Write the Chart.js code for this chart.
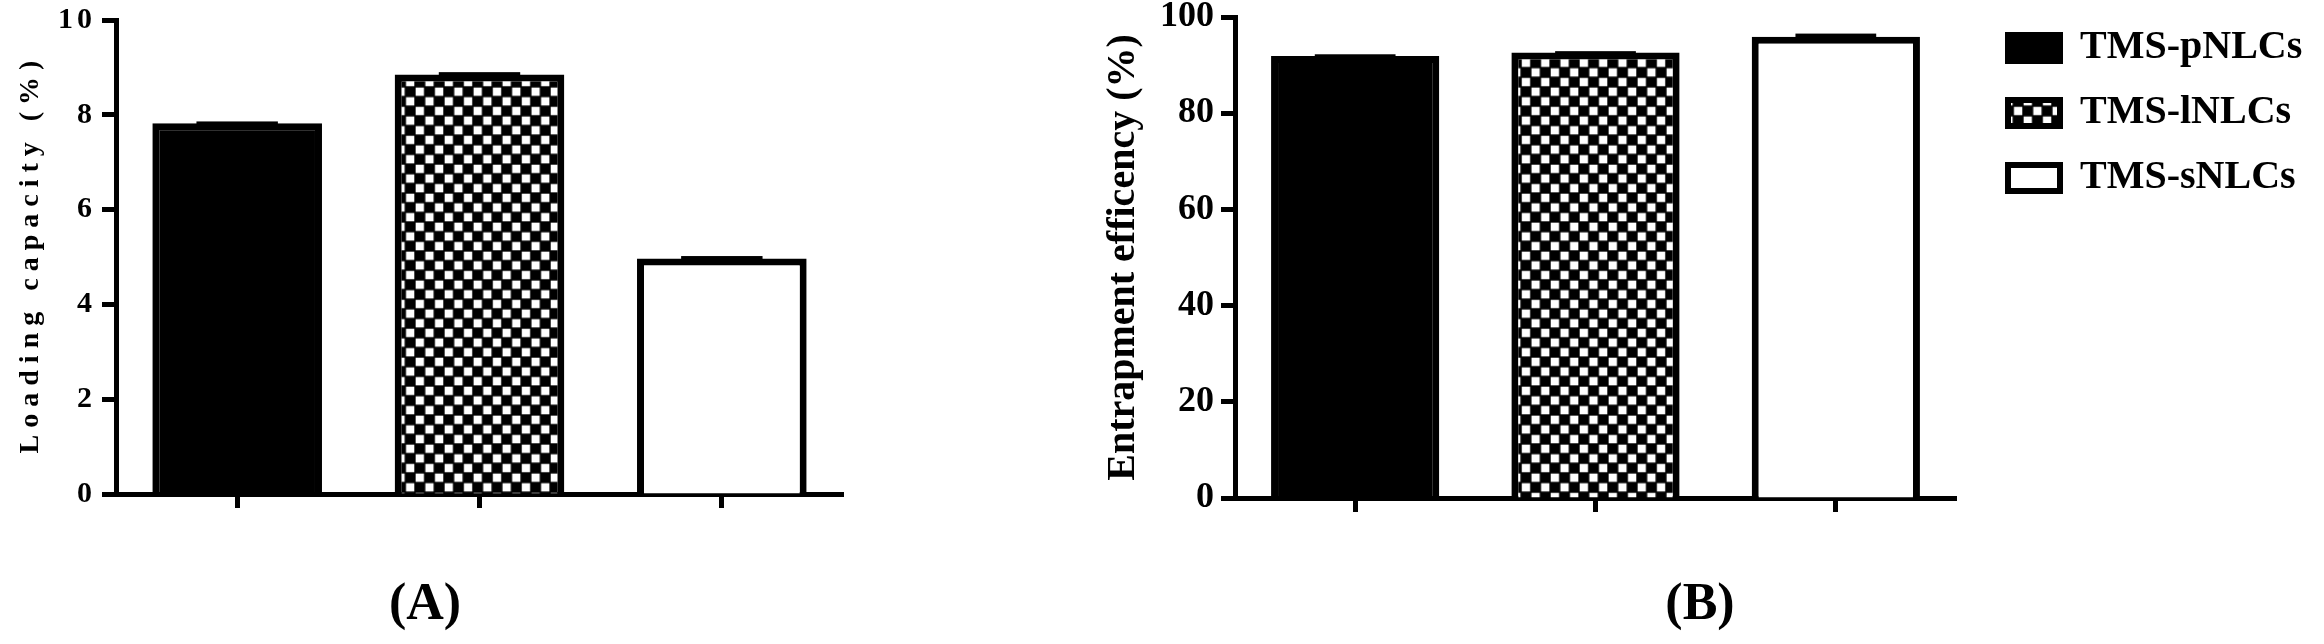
<!DOCTYPE html>
<html>
<head>
<meta charset="utf-8">
<script src="https://cdn.jsdelivr.net/npm/chart.js@4"></script>
<style>
html,body{margin:0;padding:0;background:#fff;}
#wrap{position:relative;width:2324px;height:644px;overflow:hidden;background:#fff;}
canvas{position:absolute;top:0;}
#cA{left:0;}
#cB{left:1000px;}
.panel{position:absolute;top:576px;width:200px;text-align:center;font-family:'Liberation Serif',serif;font-weight:bold;font-size:52px;line-height:52px;color:#000;}
</style>
</head>
<body>
<div id="wrap">
<canvas id="cA" width="1000" height="644"></canvas>
<canvas id="cB" width="1324" height="644"></canvas>
<div class="panel" style="left:325px">(A)</div>
<div class="panel" style="left:1600px">(B)</div>
</div>
<script>
// ---- data ----
const categories = ['TMS-pNLCs', 'TMS-lNLCs', 'TMS-sNLCs'];
const loadingCapacity = [7.82, 8.85, 4.97];
const loadingCapacityErr = [0.04, 0.05, 0.05];
const entrapmentEfficiency = [91.9, 92.6, 95.9];
const entrapmentEfficiencyErr = [0.35, 0.3, 0.65];
const loadingTicks = [0, 2, 4, 6, 8, 10];
const entrapmentTicks = [0, 20, 40, 60, 80, 100];
const titleA = 'Loading capacity (%)';
const titleB = 'Entrapment efficency (%)';

const SERIF = "'Liberation Serif', 'Times New Roman', serif";

function makeChecker() {
  const t = document.createElement('canvas');
  t.width = 20; t.height = 20;
  const g = t.getContext('2d');
  g.fillStyle = '#000'; g.fillRect(0, 0, 20, 20);
  g.fillStyle = '#fff';
  g.fillRect(0.7, 0.7, 8.6, 8.6);
  g.fillRect(10.7, 10.7, 8.6, 8.6);
  const p = g.createPattern(t, 'repeat');
  if (p.setTransform && window.DOMMatrix) p.setTransform(new DOMMatrix().scale(0.965));
  return p;
}
const checker = makeChecker();
const fills = ['#000000', checker, '#ffffff'];

const errorBarsPlugin = {
  id: 'errorBars',
  afterDatasetsDraw(chart, args, opts) {
    const meta = chart.getDatasetMeta(0);
    const y = chart.scales.y;
    const vals = chart.data.datasets[0].data;
    const ctx = chart.ctx;
    ctx.save();
    ctx.fillStyle = '#000';
    meta.data.forEach((bar, i) => {
      const top = y.getPixelForValue(vals[i] + opts.errors[i]);
      const half = bar.width * opts.capRatio / 2;
      ctx.fillRect(bar.x - half, top, half * 2, bar.y - top + 1);
    });
    ctx.restore();
  }
};

// draws text char by char with extra spacing (letter-spaced look of panel A)
function withSpacing(ctx, spacing, fn) {
  const orig = ctx.fillText;
  ctx.fillText = function (text, x, y) {
    const align = ctx.textAlign;
    const chars = Array.from(String(text));
    const w = chars.map(c => ctx.measureText(c).width);
    const total = w.reduce((a, b) => a + b, 0) + spacing * (chars.length - 1);
    let cx = x;
    if (align === 'center') cx = x - total / 2;
    else if (align === 'right' || align === 'end') cx = x - total;
    ctx.textAlign = 'left';
    chars.forEach((c, i) => { orig.call(ctx, c, cx, y); cx += w[i] + spacing; });
    ctx.textAlign = align;
  };
  try { fn(); } finally { delete ctx.fillText; }
}

const letterSpacingPlugin = {
  id: 'letterSpacing',
  beforeDraw(chart, args, opts) {
    const s = chart.scales.y;
    if (s && !s.__lsWrapped) {
      const ot = s.drawTitle, ol = s.drawLabels;
      s.drawTitle = function (...a) { withSpacing(this.ctx, opts.title, () => ot.apply(this, a)); };
      s.drawLabels = function (...a) { withSpacing(this.ctx, opts.labels, () => ol.apply(this, a)); };
      s.__lsWrapped = true;
    }
  }
};

const legendPlacePlugin = {
  id: 'legendPlace',
  afterLayout(chart, args, opts) {
    const lg = chart.legend;
    if (!lg) return;
    lg.left = chart.chartArea.right + opts.dx;
    lg.top = chart.chartArea.top + opts.dy;
    lg.right = chart.width;
    lg.bottom = chart.height;
    lg.width = lg.right - lg.left;
    lg.height = lg.bottom - lg.top;
  }
};

function axisCommon() {
  return {
    grid: { display: true, drawOnChartArea: false, drawTicks: true, tickLength: 14, tickWidth: 5, tickColor: '#000', color: '#000', offset: false },
    border: { display: true, color: '#000', width: 5 }
  };
}

function makeChart(el, cfg) {
  const xc = axisCommon(), yc = axisCommon();
  return new Chart(el, {
    type: 'bar',
    data: {
      labels: categories,
      datasets: [{
        data: cfg.values,
        backgroundColor: fills,
        borderColor: '#000',
        borderWidth: 7,
        barPercentage: 0.70,
        categoryPercentage: 1.0
      }]
    },
    options: {
      responsive: false,
      animation: false,
      devicePixelRatio: 1,
      events: [],
      layout: { padding: cfg.padding },
      plugins: Object.assign({
        tooltip: { enabled: false },
        errorBars: { errors: cfg.errors, capRatio: 0.48 }
      }, cfg.plugins),
      scales: {
        x: {
          offset: true,
          grid: xc.grid,
          border: xc.border,
          ticks: { autoSkip: false, callback: () => '' },
          afterFit: s => { s.height = 40; s.paddingLeft = 0; s.paddingRight = 0; }
        },
        y: {
          min: cfg.ticks[0],
          max: cfg.ticks[cfg.ticks.length - 1],
          afterBuildTicks: s => { s.ticks = cfg.ticks.map(v => ({ value: v })); },
          grid: yc.grid,
          border: yc.border,
          ticks: { color: '#000', padding: cfg.tickPad, font: { family: SERIF, size: cfg.tickSize, weight: 'bold' } },
          title: {
            display: true, text: cfg.title, color: '#000',
            font: { family: SERIF, size: cfg.titleSize, weight: 'bold' },
            padding: { top: cfg.titlePad, bottom: 0 }
          },
          afterFit: s => { s.width = cfg.yWidth; s.paddingTop = 0; s.paddingBottom = 0; }
        }
      }
    },
    plugins: cfg.extraPlugins
  });
}

makeChart(document.getElementById('cA'), {
  values: loadingCapacity,
  errors: loadingCapacityErr,
  ticks: loadingTicks,
  title: titleA,
  titleSize: 28,
  titlePad: 14,
  tickSize: 30,
  tickPad: 10,
  yWidth: 116,
  padding: { left: 0, top: 20, right: 157, bottom: 110 },
  plugins: {
    legend: { display: false },
    letterSpacing: { title: 7, labels: 4 }
  },
  extraPlugins: [errorBarsPlugin, letterSpacingPlugin]
});

makeChart(document.getElementById('cB'), {
  values: entrapmentEfficiency,
  errors: entrapmentEfficiencyErr,
  ticks: entrapmentTicks,
  title: titleB,
  titleSize: 40,
  titlePad: 100,
  tickSize: 36,
  tickPad: 7,
  yWidth: 235,
  padding: { left: 0, top: 17, right: 368, bottom: 106 },
  plugins: {
    legend: {
      display: true,
      position: 'chartArea',
      align: 'start',
      labels: {
        boxWidth: 52,
        boxHeight: 26,
        padding: 25,
        color: '#000',
        font: { family: SERIF, size: 40, weight: 'bold' },
        generateLabels: () => categories.map((c, i) => ({
          text: c,
          fillStyle: fills[i],
          strokeStyle: '#000',
          lineWidth: 6,
          hidden: false,
          index: i,
          datasetIndex: 0
        }))
      }
    },
    legendPlace: { dx: 27, dy: -14 }
  },
  extraPlugins: [errorBarsPlugin, legendPlacePlugin]
});
</script>
</body>
</html>
